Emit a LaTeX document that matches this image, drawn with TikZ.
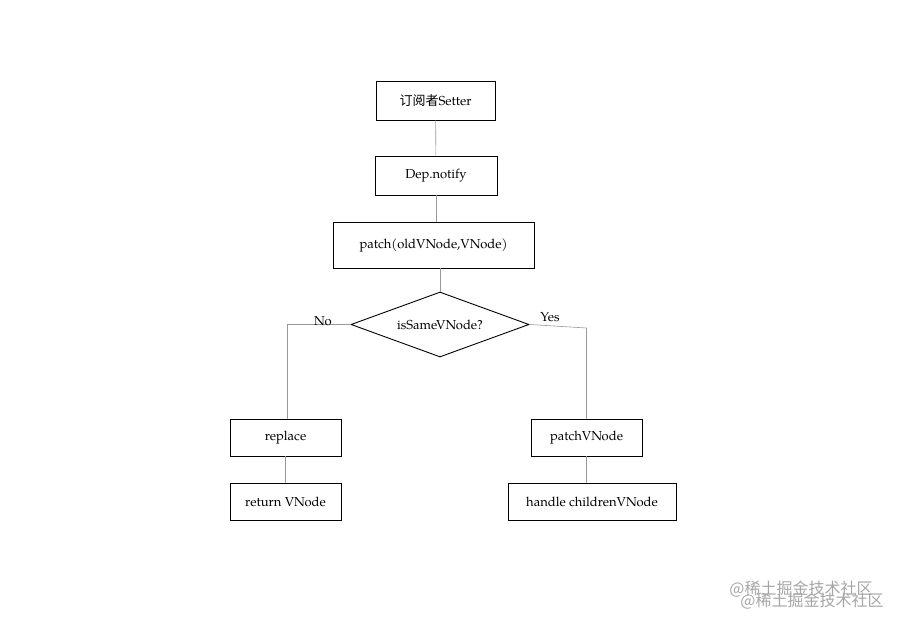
\documentclass[tikz,border=0pt]{standalone}
\usepackage{fontspec}
\setmainfont{TeX Gyre Pagella}
\newfontfamily\cjk{Noto Sans CJK SC}
\usetikzlibrary{shapes.geometric}
\begin{document}
\begin{tikzpicture}[x=1pt,y=-1pt,
  box/.style={draw,line width=0.9pt,minimum height=38pt,inner sep=0pt,font=\fontsize{13}{15}\selectfont},
  conn/.style={draw=gray!80,line width=0.6pt},
  lab/.style={font=\fontsize{13}{15}\selectfont}]
\useasboundingbox (0,0) rectangle (900,617);
\node[box,minimum width=119pt,minimum height=39pt] (s) at (435.5,100.5) {{\cjk 订阅者}Setter};
\node[box,minimum width=122pt,minimum height=39pt] (d) at (436,175.5) {Dep.notify};
\node[box,minimum width=201pt,minimum height=46pt] (p) at (433.5,245) {patch(oldVNode,VNode)};
\node[draw,line width=0.9pt,diamond,aspect=2.74,minimum width=178pt,minimum height=65pt,inner sep=0pt,font=\fontsize{13}{15}\selectfont] (q) at (440,324.5) {isSameVNode?};
\node[box,minimum width=111pt,minimum height=37pt] (r) at (285.5,437.5) {replace};
\node[box,minimum width=111pt,minimum height=37pt] (rv) at (285.5,501.5) {return VNode};
\node[box,minimum width=111pt,minimum height=37pt] (pv) at (586.5,437.5) {patchVNode};
\node[box,minimum width=168pt,minimum height=37pt] (h) at (592,501.5) {handle childrenVNode};
\coordinate (cl) at (287,324.5);
\coordinate (cr) at (586.5,328);
\draw[conn] (s) -- (d);
\draw[conn] (d.south) -- (d.south |- p.north);
\draw[conn] (p.south -| q.north) -- (q.north);
\draw[conn] (q.west) -- (cl) -- (cl |- r.north);
\draw[conn] (q.east) -- (cr) -- (pv.north);
\draw[conn] (r) -- (rv);
\draw[conn] (pv.south) -- (pv.south |- h.north);
\node[lab] (no) at (323,321) {No};
\node[lab] (yes) at (550,317) {Yes};
\node[text=gray!70,font=\cjk\fontsize{16}{18}\selectfont] (w1) at (801,589) {@稀土掘金技术社区};
\node[text=gray!70,font=\cjk\fontsize{16}{18}\selectfont] (w2) at (812,601) {@稀土掘金技术社区};
\end{tikzpicture}
\end{document}
